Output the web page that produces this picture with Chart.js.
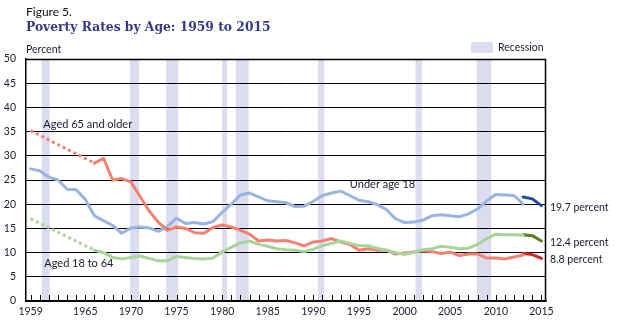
<!DOCTYPE html>
<html>
<head>
<meta charset="utf-8">
<script src="https://cdn.jsdelivr.net/npm/chart.js@4"></script>
<style>
  body { margin: 0; background: #fff; }
  #wrap { position: relative; width: 619px; height: 324px; font-family: Lato, "Open Sans", sans-serif; color: #1a1a2e; }
  #wrap canvas { position: absolute; left: 0; top: 0; }
  .txt { position: absolute; white-space: nowrap; line-height: 1; }
  #fig { left: 26px; top: 6px; font-size: 12px; color: #111; }
  #title { left: 26px; top: 21px; font-family: "DejaVu Serif", serif; font-weight: bold; font-size: 12.3px; color: #34398a; }
  #unit { left: 26px; top: 44px; font-size: 10.5px; }
  #rec-box { position: absolute; left: 471px; top: 42px; width: 22px; height: 11px; background: #dcdcef; }
  #rec { left: 498px; top: 42px; font-size: 10.5px; }
</style>
</head>
<body>
<div id="wrap">
  <canvas id="chart" width="619" height="324"></canvas>
  <div class="txt" id="fig">Figure 5.</div>
  <div class="txt" id="title">Poverty Rates by Age: 1959 to 2015</div>
  <div class="txt" id="unit">Percent</div>
  <div id="rec-box"></div>
  <div class="txt" id="rec">Recession</div>
</div>
<script>
  "use strict";

  // years shown under the x axis
  const xLabelYears = [1959, 1965, 1970, 1975, 1980, 1985, 1990, 1995, 2000, 2005, 2010, 2015];

  // recession periods (fractional years)
  const recessions = [
    [1960.25, 1961.1], [1969.9, 1970.9], [1973.85, 1975.2], [1980.0, 1980.55],
    [1981.5, 1982.9], [1990.5, 1991.2], [2001.2, 2001.9], [2007.9, 2009.5]
  ];

  // under 18, 1959-2013 (old method)
  const under18Years = [1959, 1960, 1961, 1962, 1963, 1964, 1965, 1966, 1967, 1968, 1969, 1970, 1971, 1972, 1973, 1974, 1975, 1976, 1977, 1978, 1979, 1980, 1981, 1982, 1983, 1984, 1985, 1986, 1987, 1988, 1989, 1990, 1991, 1992, 1993, 1994, 1995, 1996, 1997, 1998, 1999, 2000, 2001, 2002, 2003, 2004, 2005, 2006, 2007, 2008, 2009, 2010, 2011, 2012, 2013];
  const under18 = [27.3, 26.9, 25.6, 25.0, 23.1, 23.0, 21.0, 17.6, 16.6, 15.6, 14.0, 15.1, 15.3, 15.1, 14.4, 15.4, 17.1, 16.0, 16.2, 15.9, 16.4, 18.3, 20.0, 21.9, 22.3, 21.5, 20.7, 20.5, 20.3, 19.5, 19.6, 20.6, 21.8, 22.3, 22.7, 21.8, 20.8, 20.5, 19.9, 18.9, 17.0, 16.2, 16.3, 16.7, 17.6, 17.8, 17.6, 17.4, 18.0, 19.0, 20.7, 22.0, 21.9, 21.8, 20.0];

  // 1966-2013 (old method) for the adult groups
  const adultYears = [1966, 1967, 1968, 1969, 1970, 1971, 1972, 1973, 1974, 1975, 1976, 1977, 1978, 1979, 1980, 1981, 1982, 1983, 1984, 1985, 1986, 1987, 1988, 1989, 1990, 1991, 1992, 1993, 1994, 1995, 1996, 1997, 1998, 1999, 2000, 2001, 2002, 2003, 2004, 2005, 2006, 2007, 2008, 2009, 2010, 2011, 2012, 2013];
  const aged65 = [28.5, 29.5, 25.0, 25.3, 24.6, 21.6, 18.6, 16.3, 14.6, 15.3, 15.0, 14.1, 14.0, 15.2, 15.7, 15.3, 14.6, 13.8, 12.4, 12.6, 12.4, 12.5, 12.0, 11.4, 12.2, 12.4, 12.9, 12.2, 11.7, 10.5, 10.8, 10.5, 10.5, 9.7, 9.9, 10.1, 10.4, 10.2, 9.8, 10.1, 9.4, 9.7, 9.7, 8.9, 8.9, 8.7, 9.1, 9.5];
  const aged18to64 = [10.5, 10.0, 9.0, 8.7, 9.0, 9.3, 8.8, 8.3, 8.3, 9.2, 9.0, 8.8, 8.7, 8.9, 10.1, 11.1, 12.0, 12.4, 11.7, 11.3, 10.8, 10.6, 10.5, 10.2, 10.7, 11.4, 11.9, 12.4, 11.9, 11.4, 11.4, 10.9, 10.5, 10.0, 9.6, 10.1, 10.6, 10.8, 11.3, 11.1, 10.8, 10.9, 11.7, 12.9, 13.8, 13.7, 13.7, 13.6];

  // gap years 1960-1965 not available: dotted link 1959 -> 1966
  const gapYears = [1959, 1966];
  const aged65Gap = [35.2, 28.5];
  const aged18to64Gap = [17.0, 10.5];

  // 2013-2015 (new method)
  const newYears = [2013, 2014, 2015];
  const under18New = [21.5, 21.1, 19.7];
  const aged65New = [9.8, 9.6, 8.8];
  const aged18to64New = [13.7, 13.5, 12.4];

  const endLabels = ["19.7 percent", "12.4 percent", "8.8 percent"];

  const points = (xs, ys) => xs.map((x, i) => ({ x, y: ys[i] }));
  const line = (data, color, dash) => ({
    data, borderColor: color, borderWidth: 3, pointRadius: 0, tension: 0,
    borderDash: dash || [], borderCapStyle: dash ? "butt" : "round", borderJoinStyle: "round", fill: false
  });

  const textColor = "#1a1a2e";
  const font = { family: "Lato, 'Open Sans', sans-serif", size: 10.5 };

  const decor = {
    id: "decor",
    beforeDraw(chart) {
      const { ctx, chartArea: a, scales: { x } } = chart;
      ctx.save();
      ctx.fillStyle = "#dcdcef";
      recessions.forEach(([s, e]) => {
        const l = x.getPixelForValue(s), r = x.getPixelForValue(e);
        ctx.fillRect(l, a.top, r - l, a.bottom - a.top);
      });
      ctx.restore();
    },
    afterDatasetsDraw(chart) {
      const { ctx, chartArea: a, scales: { x, y } } = chart;
      ctx.save();
      ctx.strokeStyle = "#000";
      ctx.lineWidth = 1.5;
      ctx.beginPath();
      ctx.moveTo(a.left, a.top + 0.5);
      ctx.lineTo(a.right, a.top + 0.5);
      ctx.moveTo(a.right - 0.5, a.top);
      ctx.lineTo(a.right - 0.5, a.bottom);
      ctx.stroke();
      ctx.lineWidth = 1;
      ctx.beginPath();
      for (let yr = 1959; yr <= 2015; yr++) {
        const px = Math.round(x.getPixelForValue(yr)) + 0.5;
        ctx.moveTo(px, a.bottom);
        ctx.lineTo(px, a.bottom - 6);
      }
      ctx.stroke();

      ctx.fillStyle = textColor;
      ctx.textBaseline = "middle";
      ctx.font = "11px Lato, 'Open Sans', sans-serif";
      ctx.fillText("Aged 65 and older", x.getPixelForValue(1960.4), y.getPixelForValue(36.4));
      ctx.fillText("Aged 18 to 64", x.getPixelForValue(1960.5), y.getPixelForValue(7.85));
      ctx.fillText("Under age 18", x.getPixelForValue(1994.0), y.getPixelForValue(24.0));
      ctx.font = "10.5px Lato, 'Open Sans', sans-serif";
      const endVals = [under18New[2], aged18to64New[2], aged65New[2]];
      const nudge = [1.5, 2, 1.5];
      endLabels.forEach((t, i) => ctx.fillText(t, a.right + 4, y.getPixelForValue(endVals[i]) + nudge[i]));
      ctx.restore();
    }
  };

  new Chart(document.getElementById("chart"), {
    type: "line",
    data: {
      datasets: [
        line(points(gapYears, aged65Gap), "#f5806f", [3, 3]),
        line(points(gapYears, aged18to64Gap), "#a8d49a", [3, 3]),
        line(points(adultYears, aged18to64), "#a8d49a"),
        line(points(adultYears, aged65), "#f5806f"),
        line(points(under18Years, under18), "#98b4e0"),
        line(points(newYears, aged18to64New), "#5e7d1e"),
        line(points(newYears, aged65New), "#d42a2a"),
        line(points(newYears, under18New), "#1d4c9c")
      ]
    },
    options: {
      responsive: false,
      animation: false,
      layout: { padding: { left: 0, right: 73, top: 59, bottom: 0 } },
      plugins: { legend: { display: false }, tooltip: { enabled: false } },
      scales: {
        x: {
          type: "linear",
          min: 1958.5,
          max: 2015.5,
          afterBuildTicks: scale => { scale.ticks = xLabelYears.map(v => ({ value: v })); },
          afterFit: scale => { scale.height = 23; },
          ticks: { autoSkip: false, maxRotation: 0, padding: 4, font, color: textColor, callback: v => String(v) },
          grid: { display: false, drawTicks: false },
          border: { color: "#000", width: 1.5 }
        },
        y: {
          min: 0,
          max: 50,
          afterFit: scale => { scale.width = 26; },
          ticks: { stepSize: 5, padding: 10, font, color: textColor },
          grid: { color: "#000", lineWidth: 1, drawTicks: false },
          border: { color: "#000", width: 1.5 }
        }
      }
    },
    plugins: [decor]
  });
</script>
</body>
</html>
